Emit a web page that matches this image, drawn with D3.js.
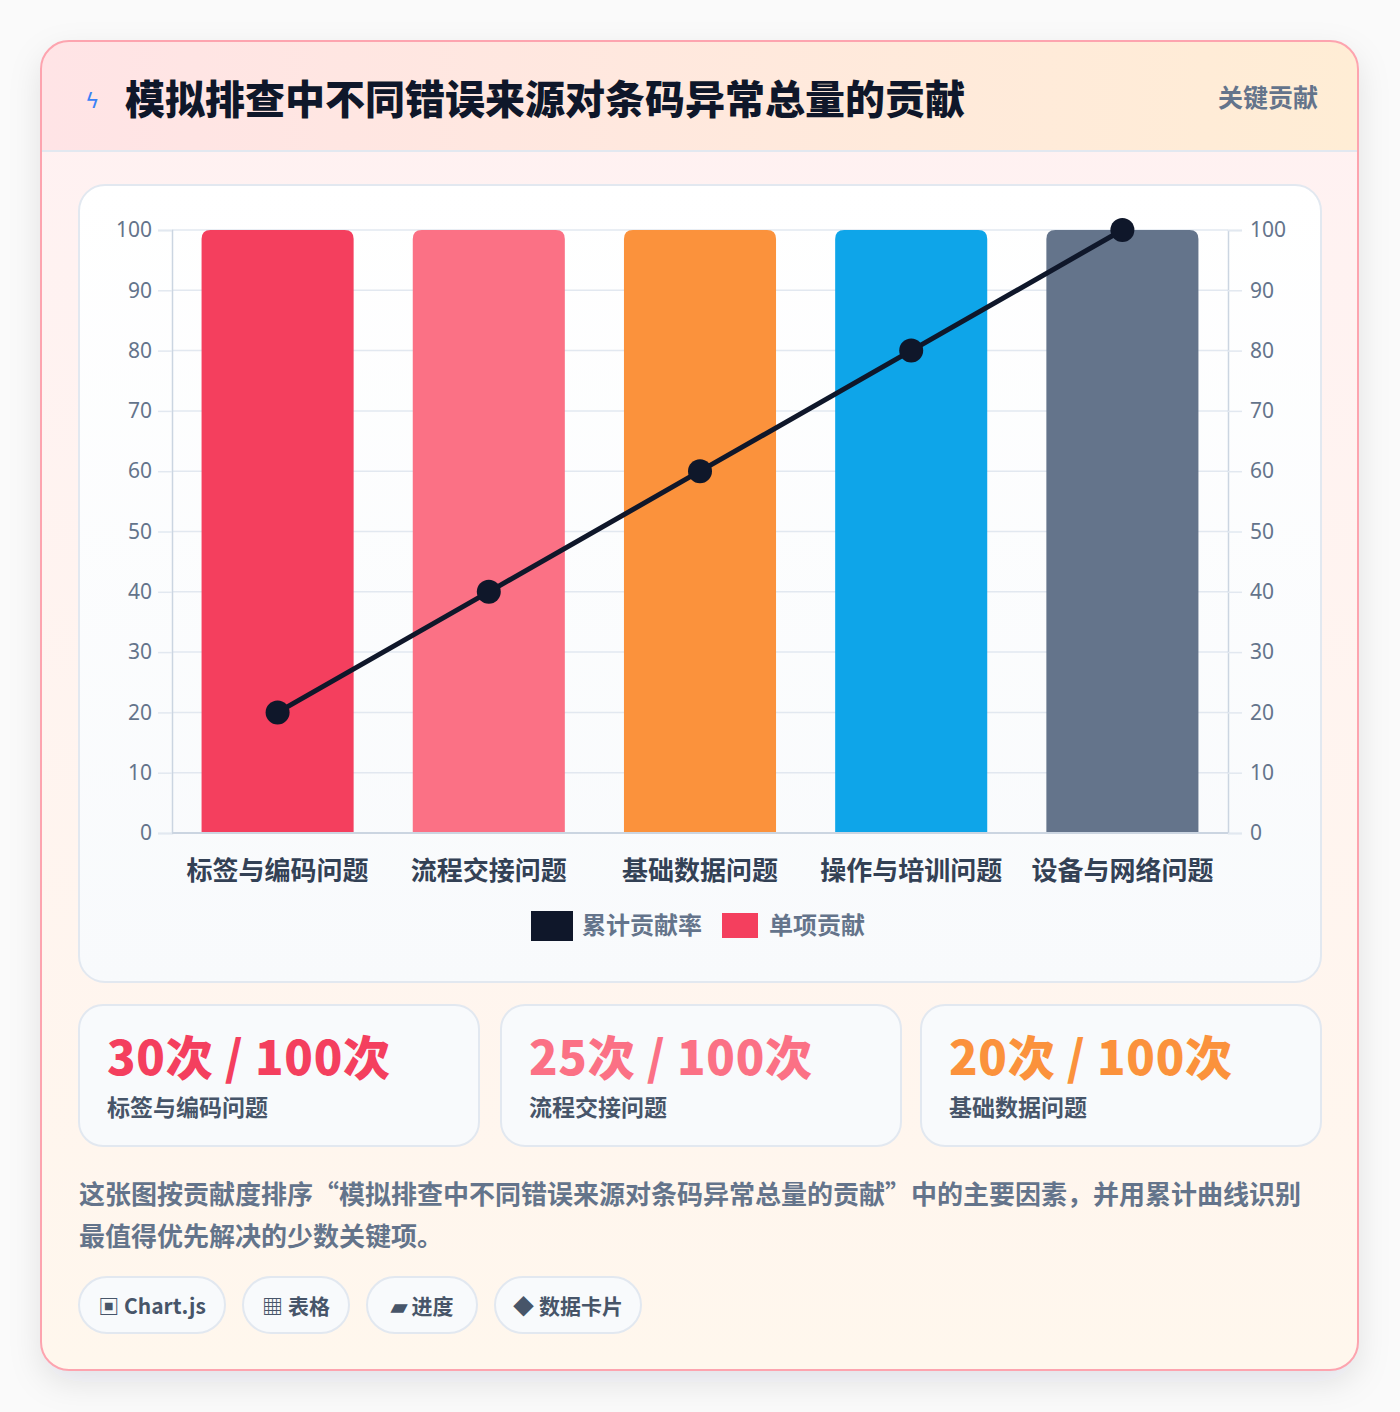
<!DOCTYPE html>
<html><head><meta charset="utf-8">
<script src="https://cdn.jsdelivr.net/npm/d3@7"></script>
<style>
body{margin:0;background:#fafafa;font-family:"Noto Sans CJK SC","Noto Sans",sans-serif;}
</style></head><body>
<svg id="c" width="1400" height="1412"></svg>
<script>
const title="模拟排查中不同错误来源对条码异常总量的贡献";
const categories=["标签与编码问题","流程交接问题","基础数据问题","操作与培训问题","设备与网络问题"];
const barValues=[100,100,100,100,100];
const cumulative=[20,40,60,80,100];
const barColors=["#f43f5e","#fb7185","#fb923c","#0ea5e9","#64748b"];
const ticks=[0,10,20,30,40,50,60,70,80,90,100];
const statValues=["30次 / 100次","25次 / 100次","20次 / 100次"];
const statLabels=["标签与编码问题","流程交接问题","基础数据问题"];
const pills=["▣ Chart.js","▦ 表格","▰ 进度","◆ 数据卡片"];
const desc=["这张图按贡献度排序“模拟排查中不同错误来源对条码异常总量的贡献”中的主要因素，并用累计曲线识别","最值得优先解决的少数关键项。"];

const svg=d3.select("#c");
const defs=svg.append("defs");
const f=defs.append("filter").attr("id","sh").attr("x","-10%").attr("y","-10%").attr("width","120%").attr("height","120%");
f.append("feDropShadow").attr("dx",0).attr("dy",12).attr("stdDeviation",16).attr("flood-color","#0f172a").attr("flood-opacity",0.1);
let g1=defs.append("linearGradient").attr("id","hd");
g1.append("stop").attr("offset",0).attr("stop-color","#ffe4e6");
g1.append("stop").attr("offset",1).attr("stop-color","#ffedd5");
let g2=defs.append("linearGradient").attr("id","bd").attr("x2",0).attr("y2",1);
g2.append("stop").attr("offset",0).attr("stop-color","#fff1f2");
g2.append("stop").attr("offset",1).attr("stop-color","#fff7ed");
let g3=defs.append("linearGradient").attr("id","pn").attr("x2",0).attr("y2",1);
g3.append("stop").attr("offset",0).attr("stop-color","#ffffff");
g3.append("stop").attr("offset",1).attr("stop-color","#f8fafc");
defs.append("clipPath").attr("id","cc").append("rect").attr("x",41).attr("y",41).attr("width",1317).attr("height",1329).attr("rx",28);

svg.append("rect").attr("x",41).attr("y",41).attr("width",1317).attr("height",1329).attr("rx",28).attr("fill","url(#bd)").attr("filter","url(#sh)");
svg.append("rect").attr("x",41).attr("y",41).attr("width",1317).attr("height",110).attr("fill","url(#hd)").attr("clip-path","url(#cc)");
svg.append("line").attr("x1",41).attr("x2",1358).attr("y1",151).attr("y2",151).attr("stroke","#e2e8f0").attr("stroke-width",2);
svg.append("rect").attr("x",41).attr("y",41).attr("width",1317).attr("height",1329).attr("rx",28).attr("fill","none").attr("stroke","#fda4af").attr("stroke-width",2);

svg.append("text").attr("x",85).attr("y",108).attr("font-size",22).attr("fill","#3b82f6").attr("font-family","DejaVu Sans").text("ϟ");
svg.append("text").attr("x",125).attr("y",114).attr("font-size",40).attr("font-weight",900).attr("fill","#0f172a").text(title);
svg.append("text").attr("x",1318).attr("y",107).attr("text-anchor","end").attr("font-size",25).attr("font-weight",700).attr("fill","#64748b").text("关键贡献");

svg.append("rect").attr("x",79).attr("y",185).attr("width",1242).attr("height",797).attr("rx",26).attr("fill","url(#pn)").attr("stroke","#e2e8f0").attr("stroke-width",2);
const L=172,R=1228,T=230,B=833;
const x=d3.scaleBand().domain(categories).range([L,R]).paddingInner(0.28).paddingOuter(0.14);
const y=d3.scaleLinear().domain([0,100]).range([B,T]);
const ch=svg.append("g");
ch.selectAll(".gl").data(ticks).join("line").attr("x1",L).attr("x2",R).attr("y1",d=>y(d)).attr("y2",d=>y(d)).attr("stroke","#e2e8f0").attr("stroke-width",1.5);
const la=ch.append("g").attr("transform",`translate(${L},0)`).call(d3.axisLeft(y).tickValues(ticks).tickSize(14).tickPadding(6));
const ra=ch.append("g").attr("transform",`translate(${R},0)`).call(d3.axisRight(y).tickValues(ticks).tickSize(14).tickPadding(8));
[la,ra].forEach(a=>{a.select(".domain").attr("stroke","#cbd5e1").attr("stroke-width",1.5);a.selectAll(".tick line").attr("stroke","#e2e8f0").attr("stroke-width",1.5);
a.selectAll("text").attr("font-size",21).attr("fill","#64748b").attr("font-family","Noto Sans, sans-serif");});
const bw=x.bandwidth(),r=9;
ch.selectAll(".bar").data(barValues).join("path").attr("fill",(d,i)=>barColors[i]).attr("d",(d,i)=>{
 const x0=x(categories[i]),y0=y(d);
 return `M${x0},${B}V${y0+r}Q${x0},${y0} ${x0+r},${y0}H${x0+bw-r}Q${x0+bw},${y0} ${x0+bw},${y0+r}V${B}Z`;});
ch.append("line").attr("x1",L).attr("x2",R).attr("y1",B).attr("y2",B).attr("stroke","#cbd5e1").attr("stroke-width",2);
const cx=(d,i)=>x(categories[i])+bw/2;
ch.append("path").datum(cumulative).attr("fill","none").attr("stroke","#0f172a").attr("stroke-width",5)
 .attr("d",d3.line().x(cx).y(d=>y(d)));
ch.selectAll(".pt").data(cumulative).join("circle").attr("cx",cx).attr("cy",d=>y(d)).attr("r",12).attr("fill","#0f172a");
ch.selectAll(".xl").data(categories).join("text").attr("x",d=>x(d)+bw/2).attr("y",880).attr("text-anchor","middle")
 .attr("font-size",26).attr("font-weight",700).attr("fill","#334155").text(d=>d);
svg.append("rect").attr("x",531).attr("y",911).attr("width",42).attr("height",30).attr("fill","#0f172a");
svg.append("text").attr("x",582).attr("y",934).attr("font-size",24).attr("font-weight",700).attr("fill","#64748b").text("累计贡献率");
svg.append("rect").attr("x",722).attr("y",913).attr("width",36).attr("height",25).attr("fill","#f43f5e");
svg.append("text").attr("x",769).attr("y",934).attr("font-size",24).attr("font-weight",700).attr("fill","#64748b").text("单项贡献");

const cardX=[79,501,921];
statValues.forEach((v,i)=>{
 svg.append("rect").attr("x",cardX[i]).attr("y",1005).attr("width",400).attr("height",141).attr("rx",24).attr("fill","#f8fafc").attr("stroke","#e2e8f0").attr("stroke-width",2);
 svg.append("text").attr("x",cardX[i]+28).attr("y",1075).attr("font-size",47).attr("font-weight",900).attr("fill",barColors[i]).attr("textLength",283).text(v);
 svg.append("text").attr("x",cardX[i]+28).attr("y",1116).attr("font-size",23).attr("font-weight",700).attr("fill","#475569").text(statLabels[i]);
});
desc.forEach((t,i)=>svg.append("text").attr("x",79).attr("y",1204+i*42).attr("font-size",26).attr("font-weight",700).attr("fill","#64748b").text(t));
let px=79;const pw=[146,106,110,146];
pills.forEach((p,i)=>{
 svg.append("rect").attr("x",px).attr("y",1277).attr("width",pw[i]).attr("height",56).attr("rx",28).attr("fill","#f8fafc").attr("stroke","#e2e8f0").attr("stroke-width",2);
 svg.append("text").attr("x",px+pw[i]/2).attr("y",1314).attr("text-anchor","middle").attr("font-size",21).attr("font-weight",700).attr("fill","#475569").text(p);
 px+=pw[i]+18;
});
</script></body></html>
